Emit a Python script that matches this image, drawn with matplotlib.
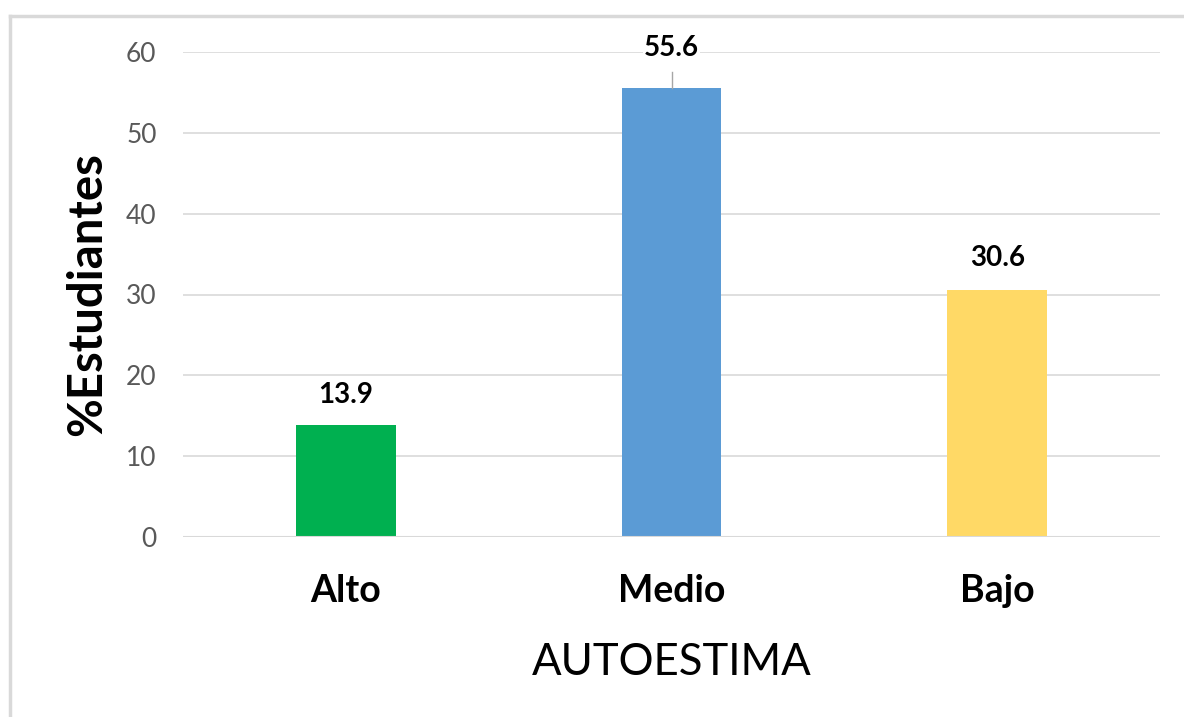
import matplotlib
matplotlib.use("Agg")
import matplotlib.pyplot as plt
from matplotlib.lines import Line2D

plt.rcParams["font.family"] = ["Lato", "DejaVu Sans"]

categories = ["Alto", "Medio", "Bajo"]
values = [13.9, 55.6, 30.6]
colors = ["#00B050", "#5B9BD5", "#FFD966"]
yticks = [0, 10, 20, 30, 40, 50, 60]

fig = plt.figure(figsize=(11.84, 7.17), dpi=100)
ax = fig.add_axes([183 / 1184, 1 - 537 / 717, (1160 - 183) / 1184, (537 - 52) / 717])

x = list(range(len(categories)))
ax.bar(x, values, width=0.307, color=colors, zorder=3)

ax.set_xlim(-0.5, 2.5)
ax.set_ylim(0, 60)
ax.set_yticks(yticks)
ax.set_xticks(x)
ax.set_xticklabels(categories, fontsize=27, fontweight="bold", color="black")
ax.tick_params(axis="x", length=0, pad=27)
ax.tick_params(axis="y", length=0, pad=19, labelsize=19, labelcolor="#595959")
ax.grid(axis="y", color="#D9D9D9", lw=1.2, zorder=0)
for s in ax.spines.values():
    s.set_visible(False)
ax.axhline(0, color="#D9D9D9", lw=1.5, zorder=4)

# data labels
offsets = [3.7, 4.9, 3.9]
for xi, v, off in zip(x, values, offsets):
    ax.text(xi, v + off, f"{v}", ha="center", va="center", fontsize=20,
            fontweight="bold", color="black", zorder=5,
            bbox=dict(facecolor="white", edgecolor="none", pad=1) if off > 4.5 else None)
# leader line for the middle label
ax.plot([1, 1], [values[1], values[1] + 1.9], color="#A6A6A6", lw=1, zorder=4, clip_on=False)

ax.set_xlabel("AUTOESTIMA", fontsize=31.5, labelpad=24)
ax.set_ylabel("%Estudiantes", fontsize=34, fontweight="bold", labelpad=12)

# outer border (top and left)
fig.add_artist(Line2D([10 / 1184, 1], [1 - 16 / 717, 1 - 16 / 717], color="#D9D9D9", lw=2.5))
fig.add_artist(Line2D([10 / 1184, 10 / 1184], [0, 1 - 16 / 717], color="#D9D9D9", lw=2.5))

fig.savefig("out.png", dpi=100, facecolor="white")
